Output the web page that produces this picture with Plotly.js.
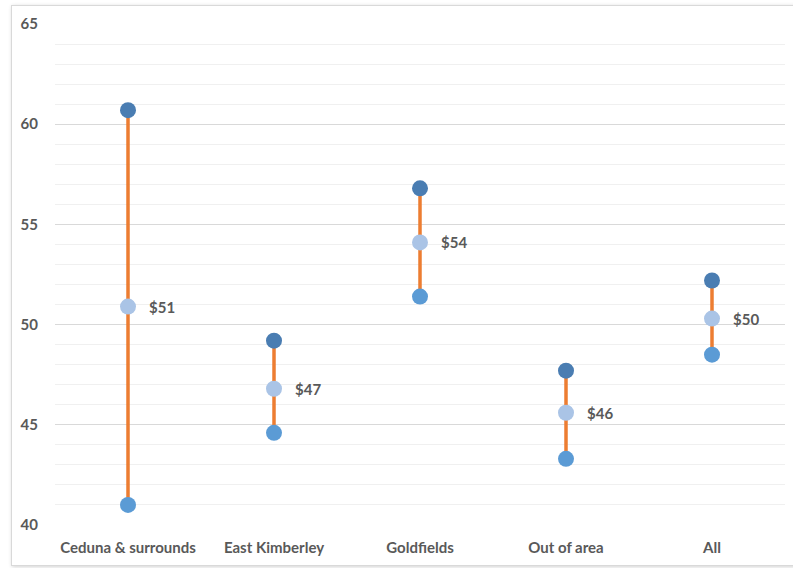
<!DOCTYPE html>
<html>
<head>
<meta charset="utf-8">
<script src="https://cdn.plot.ly/plotly-3.0.1.min.js"></script>
<style>
  html, body { margin: 0; padding: 0; background: #ffffff; }
  body { width: 793px; height: 568px; position: relative; overflow: hidden; }
  #frame {
    position: absolute; left: 11px; top: 5px; width: 790px; height: 559px;
    border: 1px solid #d9d9d9; box-shadow: 1px 1px 4px rgba(0,0,0,0.18);
    background: #fff;
  }
  #chart { position: absolute; left: 0; top: 0; width: 793px; height: 568px; }
</style>
</head>
<body>
<div id="frame"></div>
<div id="chart"></div>
<script>
// Price range per region: highest, average and lowest
const categories = ["Ceduna & surrounds", "East Kimberley", "Goldfields", "Out of area", "All"];
const highValues = [60.7, 49.2, 56.8, 47.7, 52.2];
const avgValues  = [50.9, 46.8, 54.1, 45.6, 50.3];
const lowValues  = [41.0, 44.6, 51.4, 43.3, 48.5];
const yTicks = [40, 45, 50, 55, 60, 65];

const labelFont = { family: "Lato, 'Open Sans', sans-serif", size: 15, color: "#595959", weight: "bold" };

// Vertical connectors from low to high
const rangeX = [], rangeY = [];
categories.forEach((c, i) => {
  rangeX.push(c, c, null);
  rangeY.push(lowValues[i], highValues[i], null);
});

const traces = [
  { x: rangeX, y: rangeY, mode: "lines", line: { color: "#ed7d31", width: 3.5 },
    hoverinfo: "skip", showlegend: false },
  { x: categories, y: highValues, mode: "markers", name: "High",
    marker: { color: "#4a7db2", size: 16 }, showlegend: false },
  { x: categories, y: avgValues, mode: "markers", name: "Average",
    marker: { color: "#aac4e6", size: 16 }, showlegend: false },
  { x: categories, y: lowValues, mode: "markers", name: "Low",
    marker: { color: "#5b9bd5", size: 16 }, showlegend: false }
];

const annotations = categories.map((c, i) => ({
  x: c, y: avgValues[i], xref: "x", yref: "y",
  text: "$" + Math.round(avgValues[i]),
  showarrow: false, xanchor: "left", yanchor: "middle", xshift: 19,
  font: labelFont
}));

const layout = {
  width: 793, height: 568,
  margin: { l: 55, r: 8, t: 24, b: 43 },
  paper_bgcolor: "rgba(0,0,0,0)",
  plot_bgcolor: "rgba(0,0,0,0)",
  showlegend: false,
  xaxis: {
    type: "category", range: [-0.5, 4.5],
    showgrid: false, zeroline: false, showline: false,
    ticks: "outside", ticklen: 9, tickcolor: "rgba(0,0,0,0)",
    tickfont: labelFont, fixedrange: true
  },
  yaxis: {
    range: [40, 65], tickvals: yTicks, ticktext: yTicks.map(String),
    showgrid: true, gridcolor: "#d9d9d9", gridwidth: 1,
    zeroline: false, showline: false,
    ticks: "outside", ticklen: 13, tickcolor: "rgba(0,0,0,0)",
    tickfont: labelFont,
    minor: { dtick: 1, showgrid: true, gridcolor: "#f0f0f0", gridwidth: 1, ticks: "" },
    fixedrange: true
  },
  annotations: annotations
};

Plotly.newPlot("chart", traces, layout, { displayModeBar: false, staticPlot: true });
</script>
</body>
</html>
